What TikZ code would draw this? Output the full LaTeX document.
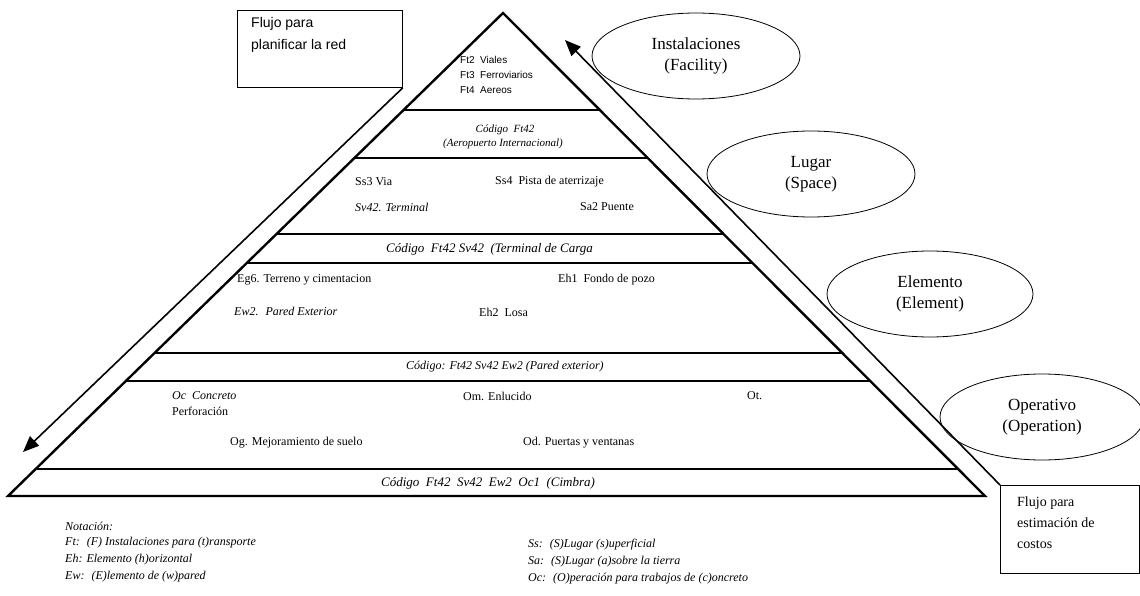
\documentclass[tikz,border=0pt]{standalone}
\usepackage{fontspec}
\setmainfont{Liberation Serif}
\newfontfamily\flowsans{Liberation Sans}
\usetikzlibrary{shapes.geometric,arrows.meta,calc}

\begin{document}
\begin{tikzpicture}[x=1pt,y=-1pt,
  edge/.style={line width=2.4pt, line join=miter},
  bandline/.style={line width=1.8pt},
  flowarrow/.style={line width=1.6pt, -{Triangle[length=16pt,width=13pt]}},
  tierellipse/.style={draw, ellipse, line width=0.8pt, minimum width=208pt,
    minimum height=86pt, align=center, inner sep=0pt,
    font=\fontsize{17}{21}\selectfont},
  flowbox/.style={draw, line width=0.8pt, inner sep=0pt},
  entry/.style={anchor=west, inner sep=0pt, font=\fontsize{12}{14}\selectfont},
  entryit/.style={anchor=west, inner sep=0pt, font=\fontsize{12}{14}\selectfont\itshape},
  toptext/.style={anchor=west, inner sep=0pt, font=\flowsans\fontsize{10}{12}\selectfont},
  codetext/.style={inner sep=0pt, font=\fontsize{12}{14}\selectfont\itshape},
  notetext/.style={anchor=west, inner sep=0pt, font=\fontsize{12}{14}\selectfont\itshape},
]
\useasboundingbox (0,0) rectangle (1140,596);

% pyramid outline
\coordinate (A) at (503,13);
\coordinate (BL) at (8,496);
\coordinate (BR) at (985,496);
\draw[edge] (BL) -- (A) -- (BR) -- cycle;

% horizontal band lines
\foreach \yy in {110,158,234,263,353,381,469}{
  \pgfmathsetmacro\fr{(\yy-13)/483}
  \draw[bandline] ($(A)!\fr!(BL)$) -- ($(A)!\fr!(BR)$);
}

% facility level
\node[toptext] (ft2) at (460,60) {Ft2 \ Viales};
\node[toptext] (ft3) at (460,75) {Ft3 \ Ferroviarios};
\node[toptext] (ft4) at (460,90) {Ft4 \ Aereos};
\node[codetext, font=\fontsize{11}{13}\selectfont\itshape] (c1a) at (505,130) {Código \ Ft42};
\node[codetext, font=\fontsize{11}{13}\selectfont\itshape] (c1b) at (503,144) {(Aeropuerto Internacional)};

% space level
\node[entry] (ss3) at (355,182) {Ss3 Via};
\node[entry] (ss4) at (495,182) {Ss4 \ Pista de aterrizaje};
\node[entryit] (sv42) at (355,207) {Sv42. Terminal};
\node[entry] (sa2) at (580,207) {Sa2 Puente};
\node[codetext, anchor=west, font=\fontsize{13}{15}\selectfont\itshape] (c2) at (386,249)
  {Código \ Ft42 Sv42 \ (Terminal de Carga};

% element level
\node[entry] (eg6) at (237,280) {Eg6. Terreno y cimentacion};
\node[entry] (eh1) at (558,280) {Eh1 \ Fondo de pozo};
\node[entryit] (ew2) at (234,311) {Ew2. \ Pared Exterior};
\node[entry] (eh2) at (479,312) {Eh2 \ Losa};
\node[codetext, anchor=west] (c3) at (406,367) {Código: Ft42 Sv42 Ew2 (Pared exterior)};

% operation level
\node[entryit] (oc) at (172,396) {Oc \ Concreto};
\node[entry] (perf) at (172,411) {Perforación};
\node[entry] (om) at (463,396) {Om. Enlucido};
\node[entry] (ot) at (747,396) {Ot.};
\node[entry] (og) at (230,443) {Og. Mejoramiento de suelo};
\node[entry] (od) at (523,443) {Od. Puertas y ventanas};
\node[codetext, anchor=west, font=\fontsize{13}{15}\selectfont\itshape] (c4) at (381,483)
  {Código \ Ft42 \ Sv42 \ Ew2 \ Oc1 \ (Cimbra)};

% level ellipses
\node[tierellipse] (facility) at (696,56) {Instalaciones\\(Facility)};
\node[tierellipse] (space) at (811,174) {Lugar\\(Space)};
\node[tierellipse, minimum width=206pt] (element) at (930,294) {Elemento\\(Element)};
\node[tierellipse, minimum width=204pt] (operation) at (1042,417) {Operativo\\(Operation)};

% planning flow box and arrow
\node[flowbox, anchor=north west, minimum width=165pt, minimum height=77pt] (planbox) at (237,10) {};
\node[anchor=north west, align=left, inner sep=0pt, font=\flowsans\fontsize{14}{22}\selectfont]
  (plantext) at (251,17) {Flujo para\\planificar la red};
\coordinate (planend) at (23,452);
\draw[flowarrow] (planbox.south east) -- (planend);

% cost estimation flow box and arrow
\node[flowbox, anchor=north west, minimum width=139pt, minimum height=88pt] (costbox) at (1000,485) {};
\node[anchor=north west, align=left, inner sep=0pt, font=\fontsize{14}{21}\selectfont]
  (costtext) at (1017,497) {Flujo para\\estimación de\\costos};
\coordinate (costend) at (565,40);
\draw[flowarrow] (costbox.north west) -- (costend);

% notation
\node[notetext] (n0) at (65,526) {Notación:};
\node[notetext] (n1) at (65,543) {Ft: \ (F) Instalaciones para (t)ransporte};
\node[notetext] (n2) at (65,560) {Eh: Elemento (h)orizontal};
\node[notetext] (n3) at (65,577) {Ew: \ (E)lemento de (w)pared};
\node[notetext] (n4) at (528,545) {Ss: \ (S)Lugar (s)uperficial};
\node[notetext] (n5) at (528,562) {Sa: \ (S)Lugar (a)sobre la tierra};
\node[notetext] (n6) at (528,579) {Oc: \ (O)peración para trabajos de (c)oncreto};
\end{tikzpicture}
\end{document}
